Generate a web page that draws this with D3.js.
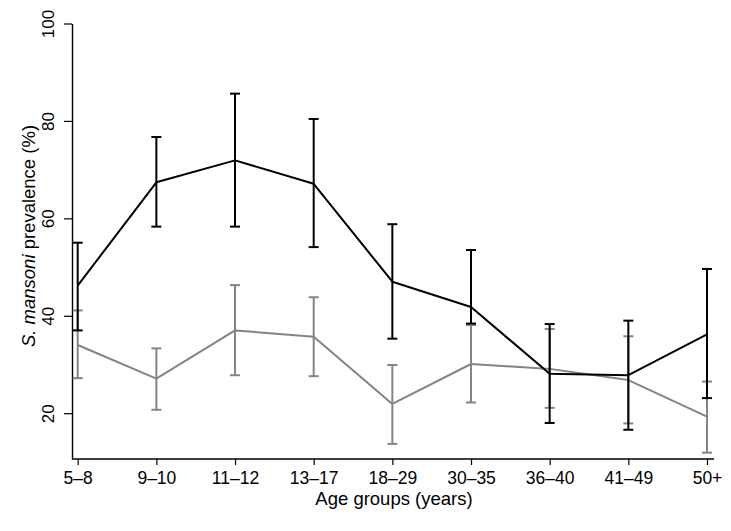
<!DOCTYPE html>
<html>
<head>
<meta charset="utf-8">
<script src="https://cdn.jsdelivr.net/npm/d3@7"></script>
<style>
  html, body { margin: 0; padding: 0; background: #fff; }
  svg { display: block; font-family: "Liberation Sans", Arial, Helvetica, sans-serif; }
</style>
</head>
<body>
<svg id="chart" width="731" height="531"></svg>
<script>
// ---- Data ----
const ageGroups = ["5–8", "9–10", "11–12", "13–17", "18–29", "30–35", "36–40", "41–49", "50+"];
const blackValues = [46.2, 67.4, 71.9, 67.1, 47.0, 41.8, 28.1, 27.8, 36.2];
const blackLower  = [37.0, 58.3, 58.3, 54.1, 35.3, 38.4, 18.0, 16.6, 23.1];
const blackUpper  = [55.0, 76.7, 85.6, 80.4, 58.8, 53.5, 38.3, 39.0, 49.6];
const grayValues  = [34.0, 27.1, 37.0, 35.7, 21.9, 30.1, 29.1, 26.8, 19.3];
const grayLower   = [27.2, 20.7, 27.8, 27.6, 13.7, 22.2, 21.1, 17.9, 11.9];
const grayUpper   = [41.1, 33.3, 46.3, 43.8, 29.9, 38.1, 37.3, 35.8, 26.5];
const yTicks = [20, 40, 60, 80, 100];

// ---- Layout ----
const svg = d3.select("#chart");
const axisX = 72, axisY = 459, xRight = 714;
const x = d3.scalePoint().domain(ageGroups).range([77.7, 707]);
const y = d3.scaleLinear().domain([10.6, 100]).range([459, 23.5]);
const tickFont = 17.5, titleFont = 18.5;

// axes
const gy = svg.append("g").attr("transform", `translate(${axisX},0)`)
  .call(d3.axisLeft(y).tickValues(yTicks).tickSize(8).tickSizeOuter(0).tickFormat(d3.format("d")));
gy.select(".domain").attr("stroke", "#000").attr("stroke-width", 1.4);
gy.selectAll(".tick line").attr("stroke", "#000").attr("stroke-width", 1.2);
gy.selectAll(".tick text")
  .attr("x", null).attr("dy", null)
  .attr("transform", "translate(-18.5,0) rotate(-90)")
  .attr("text-anchor", "middle")
  .attr("font-size", 17)
  .attr("font-family", "Liberation Sans, Arial, sans-serif")
  .attr("fill", "#000");

const gx = svg.append("g").attr("transform", `translate(0,${axisY})`)
  .call(d3.axisBottom(x).tickSize(6).tickSizeOuter(0));
gx.select(".domain").remove();
gx.append("line").attr("x1", axisX).attr("x2", xRight).attr("y1", 0).attr("y2", 0)
  .attr("stroke", "#000").attr("stroke-width", 1.4);
gx.selectAll(".tick line").attr("stroke", "#000").attr("stroke-width", 1.2);
gx.selectAll(".tick text")
  .attr("y", 24.5).attr("dy", null)
  .attr("font-size", tickFont)
  .attr("font-family", "Liberation Sans, Arial, sans-serif")
  .attr("fill", "#000");

// axis titles
svg.append("text")
  .attr("x", 394).attr("y", 505)
  .attr("text-anchor", "middle")
  .attr("font-size", titleFont)
  .text("Age groups (years)");

const yt = svg.append("text")
  .attr("transform", `translate(35,236) rotate(-90)`)
  .attr("text-anchor", "middle")
  .attr("font-size", titleFont);
yt.append("tspan").attr("font-style", "italic").text("S. mansoni");
yt.append("tspan").text(" prevalence (%)");

// series
function drawSeries(vals, lo, hi, color) {
  const g = svg.append("g");
  const capW = 5;
  ageGroups.forEach((c, i) => {
    const cx = x(c);
    g.append("line").attr("x1", cx).attr("x2", cx).attr("y1", y(lo[i])).attr("y2", y(hi[i]))
      .attr("stroke", color).attr("stroke-width", 2);
    [lo[i], hi[i]].forEach(v => {
      g.append("line").attr("x1", cx - capW).attr("x2", cx + capW).attr("y1", y(v)).attr("y2", y(v))
        .attr("stroke", color).attr("stroke-width", 2);
    });
  });
  const line = d3.line().x((d, i) => x(ageGroups[i])).y(d => y(d));
  g.append("path").datum(vals).attr("d", line)
    .attr("fill", "none").attr("stroke", color).attr("stroke-width", 2).attr("stroke-linejoin", "round");
}
drawSeries(grayValues, grayLower, grayUpper, "#848484");
drawSeries(blackValues, blackLower, blackUpper, "#000000");
</script>
</body>
</html>
